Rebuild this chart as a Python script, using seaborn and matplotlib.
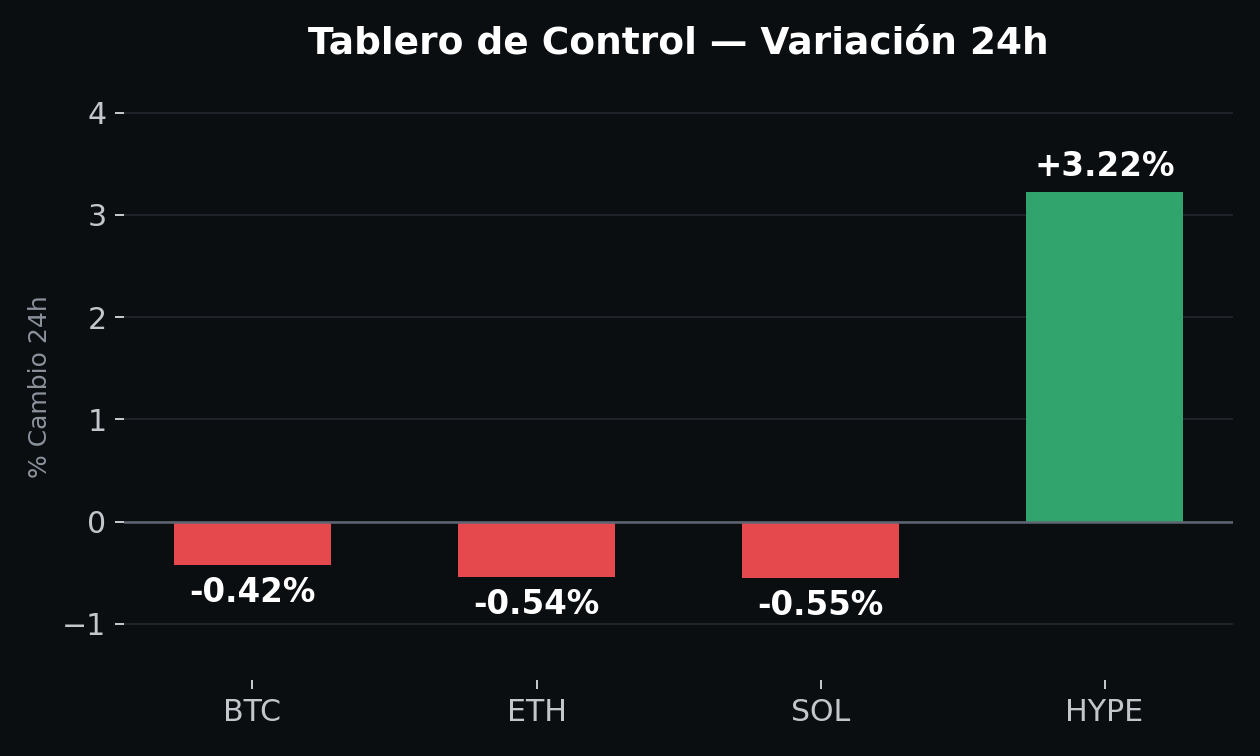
import matplotlib
matplotlib.use("Agg")
import matplotlib.pyplot as plt
import seaborn as sns

# datos
coins = ["BTC", "ETH", "SOL", "HYPE"]
changes = [-0.42, -0.54, -0.55, 3.22]

BG = "#0b0e11"
GRID = "#1e2329"
TXT = "#c3c7cc"
MUTED = "#8b929c"
RED = "#e5484d"
GREEN = "#30a46c"

sns.set_style("dark")
plt.rcParams["font.family"] = ["DejaVu Sans"]

colors = [GREEN if v >= 0 else RED for v in changes]

fig, ax = plt.subplots(figsize=(7, 4.2), dpi=180)
fig.patch.set_facecolor(BG)
ax.set_facecolor(BG)

sns.barplot(x=coins, y=changes, hue=coins, palette=colors, legend=False,
            width=0.55, saturation=1, linewidth=0, ax=ax, zorder=3)

ax.set_xlim(-0.4525, 3.4525)
ax.set_ylim(min(changes) - 1, max(changes) * 1.3)

ax.yaxis.grid(True, color=GRID, linewidth=0.8, zorder=0)
ax.xaxis.grid(False)
ax.axhline(0, color="#5e6673", linewidth=1.0, zorder=4)

for s in ax.spines.values():
    s.set_visible(False)

ax.tick_params(axis="both", colors=TXT, labelsize=12, length=3.5, width=0.8,
               bottom=True, left=True)
ax.set_xlabel("")
ax.set_ylabel("% Cambio 24h", color=MUTED, fontsize=10, labelpad=4)
ax.set_title("Tablero de Control — Variación 24h", color="white",
             fontsize=15, fontweight="bold", pad=16)

for i, v in enumerate(changes):
    off = 0.09 if v >= 0 else -0.11
    ax.text(i, v + off, f"{v:+.2f}%", ha="center",
            va="bottom" if v >= 0 else "top",
            color="white", fontsize=13, fontweight="bold", zorder=5)

plt.subplots_adjust(left=0.0984, right=0.9786, top=0.876, bottom=0.1005)
plt.savefig("out.png", facecolor=BG)
plt.close()
